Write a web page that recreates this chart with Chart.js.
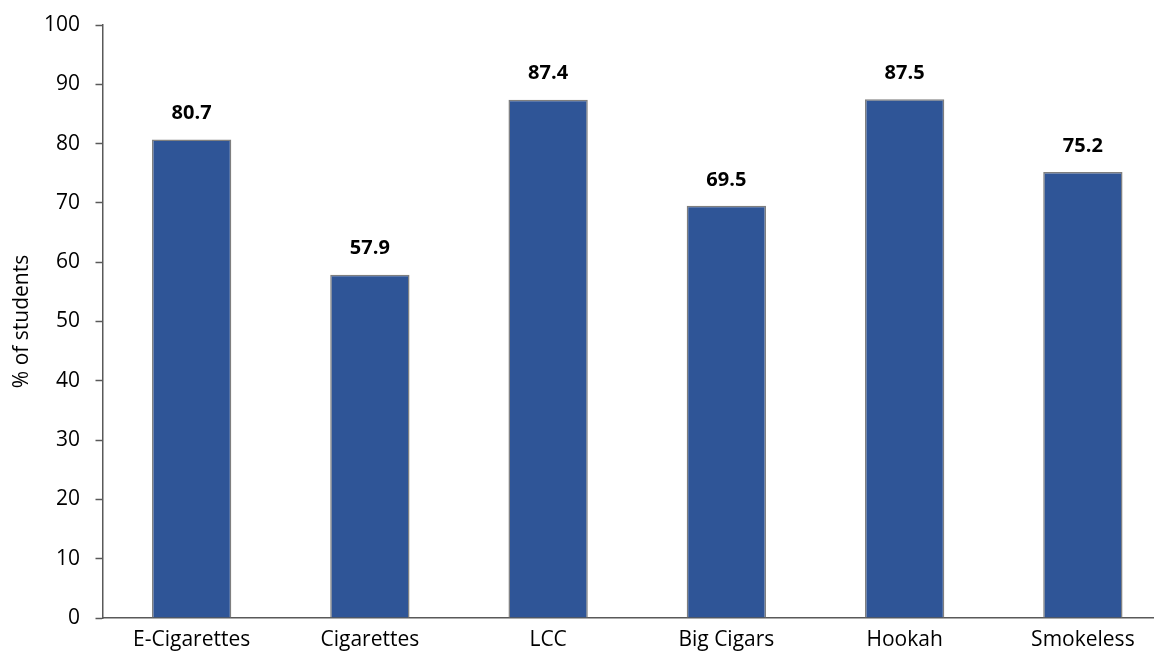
<!DOCTYPE html>
<html>
<head>
<meta charset="utf-8">
<script src="https://cdn.jsdelivr.net/npm/chart.js@4/dist/chart.umd.min.js"></script>
<style>
  html, body { margin: 0; padding: 0; background: #fff; overflow: hidden; }
  #wrap { width: 1172px; height: 658px; }
</style>
</head>
<body>
<div id="wrap"><canvas id="chart"></canvas></div>
<script>
// Tobacco products and share of students
const products = ['E-Cigarettes', 'Cigarettes', 'LCC', 'Big Cigars', 'Hookah', 'Smokeless'];
const percentStudents = [80.7, 57.9, 87.4, 69.5, 87.5, 75.2];
const yTicks = [0, 10, 20, 30, 40, 50, 60, 70, 80, 90, 100];

const colors = {
  bar: '#2f5597',
  barEdge: '#7f7f7f',
  axis: '#595959',
  text: '#000000'
};

const fontFamily = "'Open Sans', sans-serif";
Chart.defaults.font.family = fontFamily;
Chart.defaults.color = colors.text;

// Bold value labels over each bar
const barValues = {
  id: 'barValues',
  afterDatasetsDraw(chart) {
    const ctx = chart.ctx;
    const meta = chart.getDatasetMeta(0);
    ctx.save();
    ctx.font = 'bold 20px ' + fontFamily;
    ctx.fillStyle = colors.text;
    ctx.textAlign = 'center';
    ctx.textBaseline = 'middle';
    meta.data.forEach((bar, i) => {
      ctx.fillText(percentStudents[i].toFixed(1), bar.x, bar.y - 26);
    });
    ctx.restore();
  }
};

new Chart(document.getElementById('chart'), {
  type: 'bar',
  data: {
    labels: products,
    datasets: [{
      data: percentStudents,
      backgroundColor: colors.bar,
      borderColor: colors.barEdge,
      borderWidth: 1.5,
      categoryPercentage: 1,
      barPercentage: 0.445
    }]
  },
  options: {
    responsive: true,
    maintainAspectRatio: false,
    animation: false,
    layout: { padding: { top: 25, right: 0, bottom: 0, left: 0 } },
    plugins: {
      legend: { display: false },
      tooltip: { enabled: false }
    },
    scales: {
      x: {
        grid: { display: true, drawOnChartArea: false, drawTicks: false },
        border: { color: colors.axis, width: 1.5 },
        ticks: { font: { size: 21 }, padding: 9, maxRotation: 0 },
        afterFit(scale) {
          scale.height = 40;
          scale.paddingLeft = 0;
          scale.paddingRight = 0;
        }
      },
      y: {
        min: 0,
        max: 100,
        afterBuildTicks(scale) { scale.ticks = yTicks.map(v => ({ value: v })); },
        grid: { display: true, drawOnChartArea: false, tickLength: 7, tickColor: colors.axis, tickWidth: 1.5 },
        border: { color: colors.axis, width: 1.5 },
        ticks: { font: { size: 21 }, padding: 15.5 },
        title: { display: true, text: '% of students', font: { size: 21 }, padding: { top: 9, bottom: 0 } },
        afterFit(scale) {
          scale.width = 102.5;
          scale.paddingTop = 0;
          scale.paddingBottom = 0;
        }
      }
    }
  },
  plugins: [barValues]
});
</script>
</body>
</html>
